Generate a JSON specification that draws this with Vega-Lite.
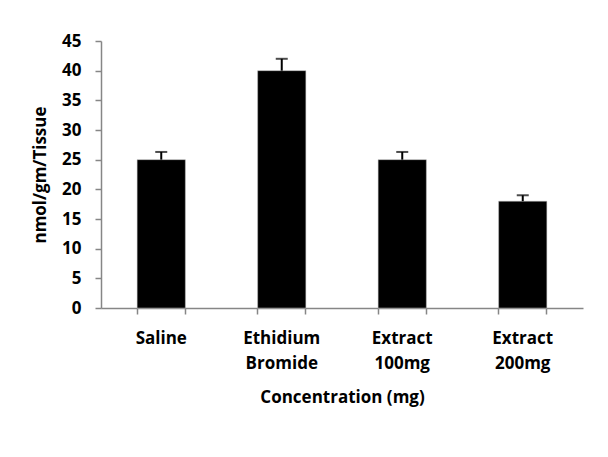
{
  "$schema": "https://vega.github.io/schema/vega-lite/v6.json",
  "autosize": "none",
  "width": 482,
  "height": 267,
  "padding": {"left": 101, "top": 41, "right": 25, "bottom": 149},
  "background": "white",
  "config": {
    "view": {"stroke": null},
    "font": "Open Sans",
    "axisY": {
      "labelFont": "Open Sans", "labelFontSize": 17, "labelFontWeight": "bold", "labelColor": "black",
      "labelPadding": 14, "labelOverlap": false,
      "grid": false, "tickSize": 6, "tickColor": "#868686", "tickWidth": 1.5,
      "domainColor": "#868686", "domainWidth": 1.5,
      "titleFont": "Open Sans", "titleFontSize": 17, "titleFontWeight": "bold", "titleColor": "black",
      "titlePadding": 12
    }
  },
  "data": {
    "values": [
      {"group": "Saline", "value": 25, "upper": 26.3},
      {"group": "Ethidium Bromide", "value": 40, "upper": 42},
      {"group": "Extract 100mg", "value": 25, "upper": 26.3},
      {"group": "Extract 200mg", "value": 18, "upper": 19}
    ]
  },
  "resolve": {"axis": {"x": "independent"}},
  "layer": [
    {
      "mark": {"type": "bar", "color": "black", "stroke": "#bbbbbb", "strokeWidth": 0.5},
      "encoding": {
        "x": {
          "field": "group", "type": "nominal", "sort": null,
          "scale": {"paddingInner": 0.6, "paddingOuter": 0.3},
          "axis": {
            "orient": "bottom",
            "title": "Concentration (mg)",
            "titleFont": "Open Sans", "titleFontSize": 17, "titleFontWeight": "bold", "titleColor": "black",
            "titlePadding": 18,
            "labelAngle": 0, "labelFont": "Open Sans", "labelFontSize": 17, "labelFontWeight": "bold", "labelColor": "black",
            "labelExpr": "split(datum.label, ' ')", "labelLineHeight": 25, "labelPadding": 22,
            "ticks": false, "domainColor": "#868686", "domainWidth": 1.5
          }
        },
        "y": {
          "field": "value", "type": "quantitative",
          "scale": {"domain": [0, 45]},
          "axis": {
            "title": "nmol/gm/Tissue",
            "values": [0, 5, 10, 15, 20, 25, 30, 35, 40, 45]
          }
        }
      }
    },
    {
      "mark": {"type": "rule", "color": "black", "strokeWidth": 2},
      "encoding": {
        "x": {
          "field": "group", "type": "nominal", "sort": null,
          "axis": {
            "orient": "bottom", "bandPosition": 0, "title": null, "labels": false, "domain": false,
            "tickSize": 6, "tickColor": "#868686", "tickWidth": 1.5
          }
        },
        "y": {"field": "value", "type": "quantitative", "axis": {"title": "nmol/gm/Tissue", "values": [0, 5, 10, 15, 20, 25, 30, 35, 40, 45]}},
        "y2": {"field": "upper"}
      }
    },
    {
      "mark": {"type": "tick", "color": "black", "size": 12, "thickness": 2},
      "encoding": {
        "x": {
          "field": "group", "type": "nominal", "sort": null,
          "axis": {
            "orient": "bottom", "bandPosition": 1, "title": null, "labels": false, "domain": false,
            "tickSize": 6, "tickColor": "#868686", "tickWidth": 1.5
          }
        },
        "y": {"field": "upper", "type": "quantitative", "axis": {"title": "nmol/gm/Tissue", "values": [0, 5, 10, 15, 20, 25, 30, 35, 40, 45]}}
      }
    }
  ]
}
